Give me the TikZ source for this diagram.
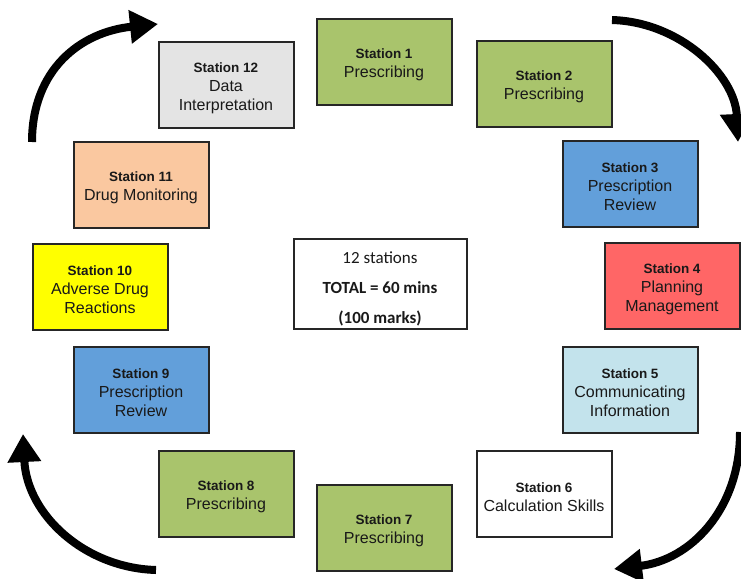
\documentclass[tikz,border=0pt]{standalone}
\usepackage{fontspec}
\setmainfont{Liberation Sans}
\newfontfamily\calibri{Carlito}
\usetikzlibrary{shapes,arrows.meta}

\definecolor{rxgreen}{HTML}{A9C46C}
\definecolor{rxblue}{HTML}{629FDA}
\definecolor{rxred}{HTML}{FF6666}
\definecolor{rxsky}{HTML}{C3E3EC}
\definecolor{rxpeach}{HTML}{FAC8A0}
\definecolor{rxgrey}{HTML}{E4E4E4}
\definecolor{rxyellow}{HTML}{FFFF00}

\newcommand{\stn}[1]{\rule{0pt}{16pt}{\fontsize{13.5}{19}\selectfont\bfseries Station #1}}

\begin{document}
\begin{tikzpicture}
[
x=1pt, y=-1pt,
station/.style={draw=black!85, line width=2pt, minimum width=135pt, minimum height=86pt,
  align=center, inner sep=2pt, text=black!90, font=\fontsize{16}{19}\selectfont},
loop/.style={line width=8pt, -{Triangle[length=28pt, width=32pt]}}
]
\tikzset{hub/.style={station, fill=white, minimum width=173pt, minimum height=90pt,
  font=\calibri\fontsize{17}{30}\selectfont}}
\useasboundingbox (0,0) rectangle (741,578);

\node[station, fill=rxgreen]  (st1)  at (384,62)  {\stn{1}\\ Prescribing};
\node[station, fill=rxgreen]  (st2)  at (544,84)  {\stn{2}\\ Prescribing};
\node[station, fill=rxblue]   (st3)  at (630,184) {\stn{3}\\ Prescription\\ Review};
\node[station, fill=rxred]    (st4)  at (672,286) {\stn{4}\\ Planning\\ Management};
\node[station, fill=rxsky]    (st5)  at (630,390) {\stn{5}\\ Communicating\\ Information};
\node[station, fill=white]    (st6)  at (544,494) {\stn{6}\\ Calculation Skills};
\node[station, fill=rxgreen]  (st7)  at (384,528) {\stn{7}\\ Prescribing};
\node[station, fill=rxgreen]  (st8)  at (226,494) {\stn{8}\\ Prescribing};
\node[station, fill=rxblue]   (st9)  at (141,390) {\stn{9}\\ Prescription\\ Review};
\node[station, fill=rxyellow] (st10) at (100,287) {\stn{10}\\ Adverse Drug\\ Reactions};
\node[station, fill=rxpeach]  (st11) at (141,185) {\stn{11}\\ Drug Monitoring};
\node[station, fill=rxgrey]   (st12) at (226,85)  {\stn{12}\\ Data\\ Interpretation};

\node[hub] (total) at (380,284) {\rule{0pt}{22pt}12 stations\\ \textbf{TOTAL = 60 mins}\\ \textbf{(100 marks)}};

\coordinate (tlA) at (32,142);
\coordinate (tlB) at (158,24);
\coordinate (trA) at (612,20);
\coordinate (trB) at (738,142);
\coordinate (brA) at (740,432);
\coordinate (brB) at (614,569);
\coordinate (blA) at (156,570);
\coordinate (blB) at (23,434);

\draw[loop] (tlA) .. controls (32,70) and (80,32) .. (tlB);
\draw[loop] (trA) .. controls (680,22) and (735,75) .. (trB);
\draw[loop] (brA) .. controls (740,510) and (690,560) .. (brB);
\draw[loop] (blA) .. controls (85,568) and (27,515) .. (blB);
\end{tikzpicture}
\end{document}
